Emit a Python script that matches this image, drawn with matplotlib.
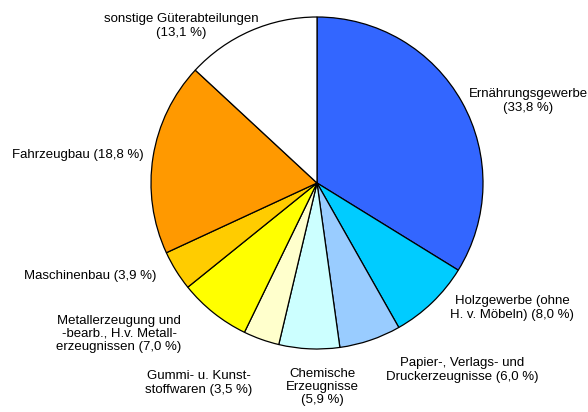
import matplotlib.pyplot as plt

plt.rcParams['font.family'] = ['Liberation Sans', 'DejaVu Sans']

labels = ['Ernährungsgewerbe\n(33,8 %)', 'Holzgewerbe (ohne\nH. v. Möbeln) (8,0 %)',
          'Papier-, Verlags- und\nDruckerzeugnisse (6,0 %)', 'Chemische\nErzeugnisse\n(5,9 %)',
          'Gummi- u. Kunst-\nstoffwaren (3,5 %)',
          'Metallerzeugung und\n-bearb., H.v. Metall-\nerzeugnissen (7,0 %)',
          'Maschinenbau (3,9 %)', 'Fahrzeugbau (18,8 %)',
          'sonstige Güterabteilungen\n(13,1 %)']
shares = [33.8, 8.0, 6.0, 5.9, 3.5, 7.0, 3.9, 18.8, 13.1]
colors = ['#3366FF', '#00CCFF', '#99CCFF', '#CCFFFF', '#FFFFCC',
          '#FFFF00', '#FFCC00', '#FF9900', '#FFFFFF']
# label centres in pixel coordinates (x, y from top)
label_pos = [(528, 101), (512, 308), (462, 370), (322, 387), (199, 383),
             (119, 334), (90, 276), (78, 155), (181, 26)]

W, H = 588, 412
fig = plt.figure(figsize=(W / 100, H / 100), dpi=100)
ax = fig.add_axes([0, 0, 1, 1])

ax.pie(shares, colors=colors, startangle=90, counterclock=False,
       center=(317, H - 183), radius=166, frame=True,
       wedgeprops=dict(edgecolor='black', linewidth=0.9))
ax.set_xlim(0, W)
ax.set_ylim(0, H)
ax.set_aspect('equal')
ax.axis('off')

for lab, (x, y) in zip(labels, label_pos):
    ax.text(x, H - y, lab, ha='center', va='center', fontsize=9.5,
            linespacing=1.15, color='black')

fig.savefig('out.png', dpi=100)
